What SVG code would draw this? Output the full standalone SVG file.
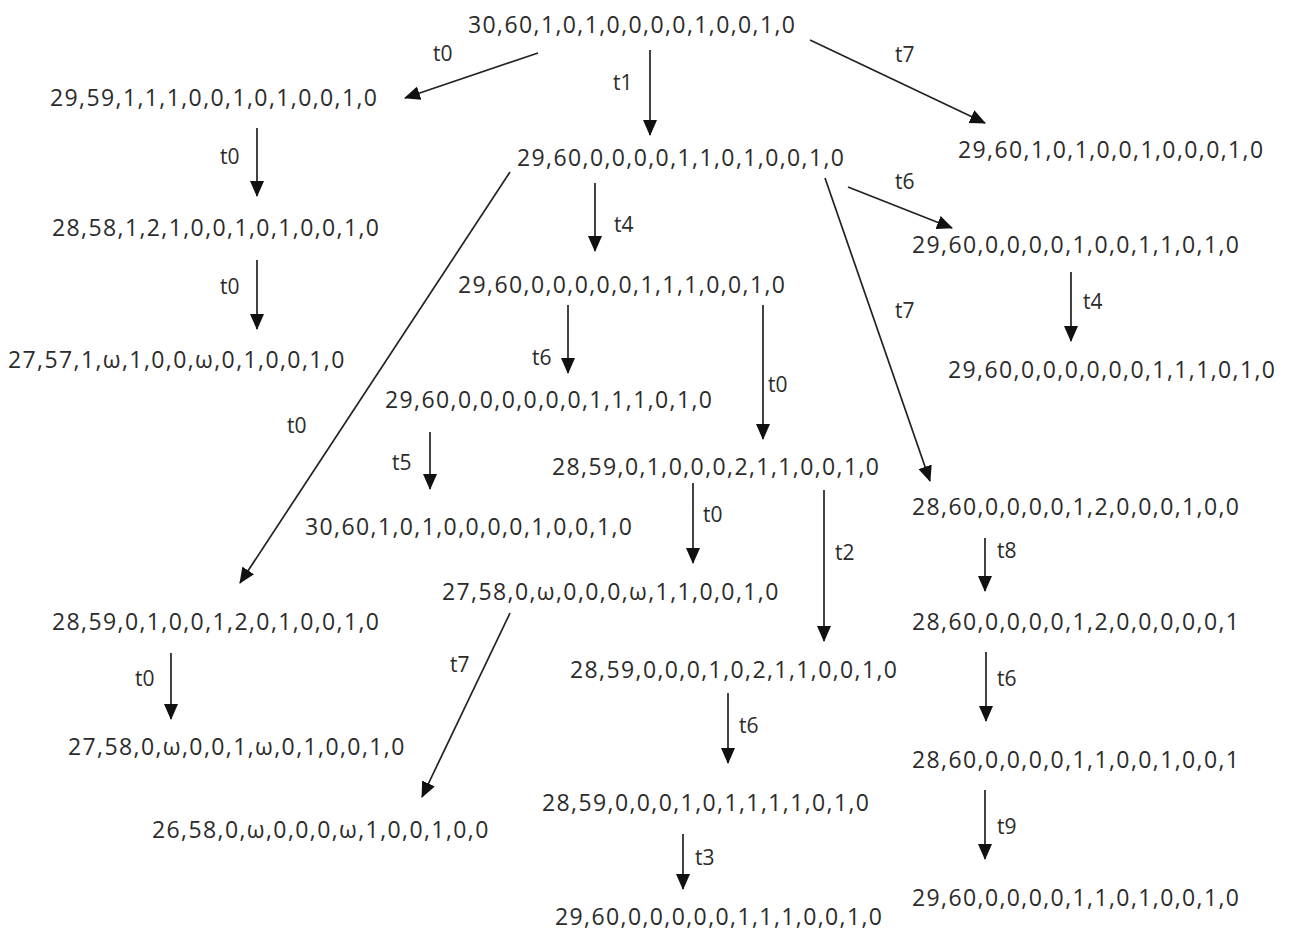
<svg xmlns="http://www.w3.org/2000/svg" width="1291" height="930" viewBox="0 0 1291 930">
<style>
.n{font-family:"Open Sans","Liberation Sans",sans-serif;font-size:23px;fill:#2b2b2b;letter-spacing:1.4px}
.l{font-family:"Open Sans","Liberation Sans",sans-serif;font-size:21px;fill:#2b2b2b}
.e{stroke:#222;stroke-width:1.7;fill:none;marker-end:url(#ah)}
</style>
<defs>
<marker id="ah" viewBox="0 0 16 14" refX="15" refY="7" markerWidth="16" markerHeight="14" markerUnits="userSpaceOnUse" orient="auto"><path d="M0,0 L16,7 L0,14 z" fill="#111"/></marker>
</defs>
<rect width="1291" height="930" fill="#fff"/>
<g id="connectors">
<line class="e" x1="538" y1="53" x2="405" y2="98"/>
<line class="e" x1="650" y1="50" x2="650" y2="135"/>
<line class="e" x1="810" y1="40" x2="985" y2="123"/>
<line class="e" x1="257" y1="128" x2="257" y2="196"/>
<line class="e" x1="848" y1="187" x2="952" y2="228"/>
<line class="e" x1="595" y1="183" x2="595" y2="251"/>
<line class="e" x1="510" y1="172" x2="240" y2="583"/>
<line class="e" x1="825" y1="178" x2="930" y2="481"/>
<line class="e" x1="257" y1="260" x2="257" y2="329"/>
<line class="e" x1="1071" y1="272" x2="1071" y2="341"/>
<line class="e" x1="568" y1="305" x2="568" y2="373"/>
<line class="e" x1="763" y1="305" x2="763" y2="439"/>
<line class="e" x1="430" y1="432" x2="430" y2="489"/>
<line class="e" x1="693" y1="483" x2="693" y2="563"/>
<line class="e" x1="824" y1="490" x2="824" y2="641"/>
<line class="e" x1="985" y1="538" x2="985" y2="591"/>
<line class="e" x1="986" y1="652" x2="986" y2="721"/>
<line class="e" x1="171" y1="653" x2="171" y2="719"/>
<line class="e" x1="510" y1="613" x2="422" y2="797"/>
<line class="e" x1="728" y1="693" x2="728" y2="763"/>
<line class="e" x1="985" y1="790" x2="985" y2="859"/>
<line class="e" x1="683" y1="834" x2="683" y2="889"/>
<text class="l" x="433" y="61">t0</text>
<text class="l" x="613" y="90">t1</text>
<text class="l" x="895" y="62">t7</text>
<text class="l" x="220" y="164">t0</text>
<text class="l" x="895" y="189">t6</text>
<text class="l" x="614" y="232">t4</text>
<text class="l" x="287" y="433">t0</text>
<text class="l" x="895" y="318">t7</text>
<text class="l" x="220" y="294">t0</text>
<text class="l" x="1083" y="309">t4</text>
<text class="l" x="532" y="365">t6</text>
<text class="l" x="768" y="392">t0</text>
<text class="l" x="392" y="470">t5</text>
<text class="l" x="703" y="522">t0</text>
<text class="l" x="835" y="560">t2</text>
<text class="l" x="997" y="558">t8</text>
<text class="l" x="997" y="686">t6</text>
<text class="l" x="135" y="686">t0</text>
<text class="l" x="450" y="672">t7</text>
<text class="l" x="739" y="733">t6</text>
<text class="l" x="997" y="834">t9</text>
<text class="l" x="695" y="865">t3</text>
</g>
<g id="n1"><text class="n" x="468" y="33">30,60,1,0,1,0,0,0,0,1,0,0,1,0</text></g>
<g id="n2"><text class="n" x="50" y="106">29,59,1,1,1,0,0,1,0,1,0,0,1,0</text></g>
<g id="n3"><text class="n" x="517" y="166">29,60,0,0,0,0,1,1,0,1,0,0,1,0</text></g>
<g id="n4"><text class="n" x="958" y="158">29,60,1,0,1,0,0,1,0,0,0,1,0</text></g>
<g id="n5"><text class="n" x="52" y="236">28,58,1,2,1,0,0,1,0,1,0,0,1,0</text></g>
<g id="n6"><text class="n" x="912" y="253">29,60,0,0,0,0,1,0,0,1,1,0,1,0</text></g>
<g id="n7"><text class="n" x="458" y="293">29,60,0,0,0,0,0,1,1,1,0,0,1,0</text></g>
<g id="n8"><text class="n" x="8" y="368">27,57,1,ω,1,0,0,ω,0,1,0,0,1,0</text></g>
<g id="n9"><text class="n" x="948" y="378">29,60,0,0,0,0,0,0,1,1,1,0,1,0</text></g>
<g id="n10"><text class="n" x="385" y="408">29,60,0,0,0,0,0,0,1,1,1,0,1,0</text></g>
<g id="n11"><text class="n" x="552" y="475">28,59,0,1,0,0,0,2,1,1,0,0,1,0</text></g>
<g id="n12"><text class="n" x="305" y="535">30,60,1,0,1,0,0,0,0,1,0,0,1,0</text></g>
<g id="n13"><text class="n" x="912" y="515">28,60,0,0,0,0,1,2,0,0,0,1,0,0</text></g>
<g id="n14"><text class="n" x="442" y="600">27,58,0,ω,0,0,0,ω,1,1,0,0,1,0</text></g>
<g id="n15"><text class="n" x="52" y="630">28,59,0,1,0,0,1,2,0,1,0,0,1,0</text></g>
<g id="n16"><text class="n" x="912" y="630">28,60,0,0,0,0,1,2,0,0,0,0,0,1</text></g>
<g id="n17"><text class="n" x="570" y="678">28,59,0,0,0,1,0,2,1,1,0,0,1,0</text></g>
<g id="n18"><text class="n" x="68" y="755">27,58,0,ω,0,0,1,ω,0,1,0,0,1,0</text></g>
<g id="n19"><text class="n" x="912" y="768">28,60,0,0,0,0,1,1,0,0,1,0,0,1</text></g>
<g id="n20"><text class="n" x="542" y="811">28,59,0,0,0,1,0,1,1,1,1,0,1,0</text></g>
<g id="n21"><text class="n" x="152" y="838">26,58,0,ω,0,0,0,ω,1,0,0,1,0,0</text></g>
<g id="n22"><text class="n" x="912" y="906">29,60,0,0,0,0,1,1,0,1,0,0,1,0</text></g>
<g id="n23"><text class="n" x="555" y="925">29,60,0,0,0,0,0,1,1,1,0,0,1,0</text></g>
</svg>
